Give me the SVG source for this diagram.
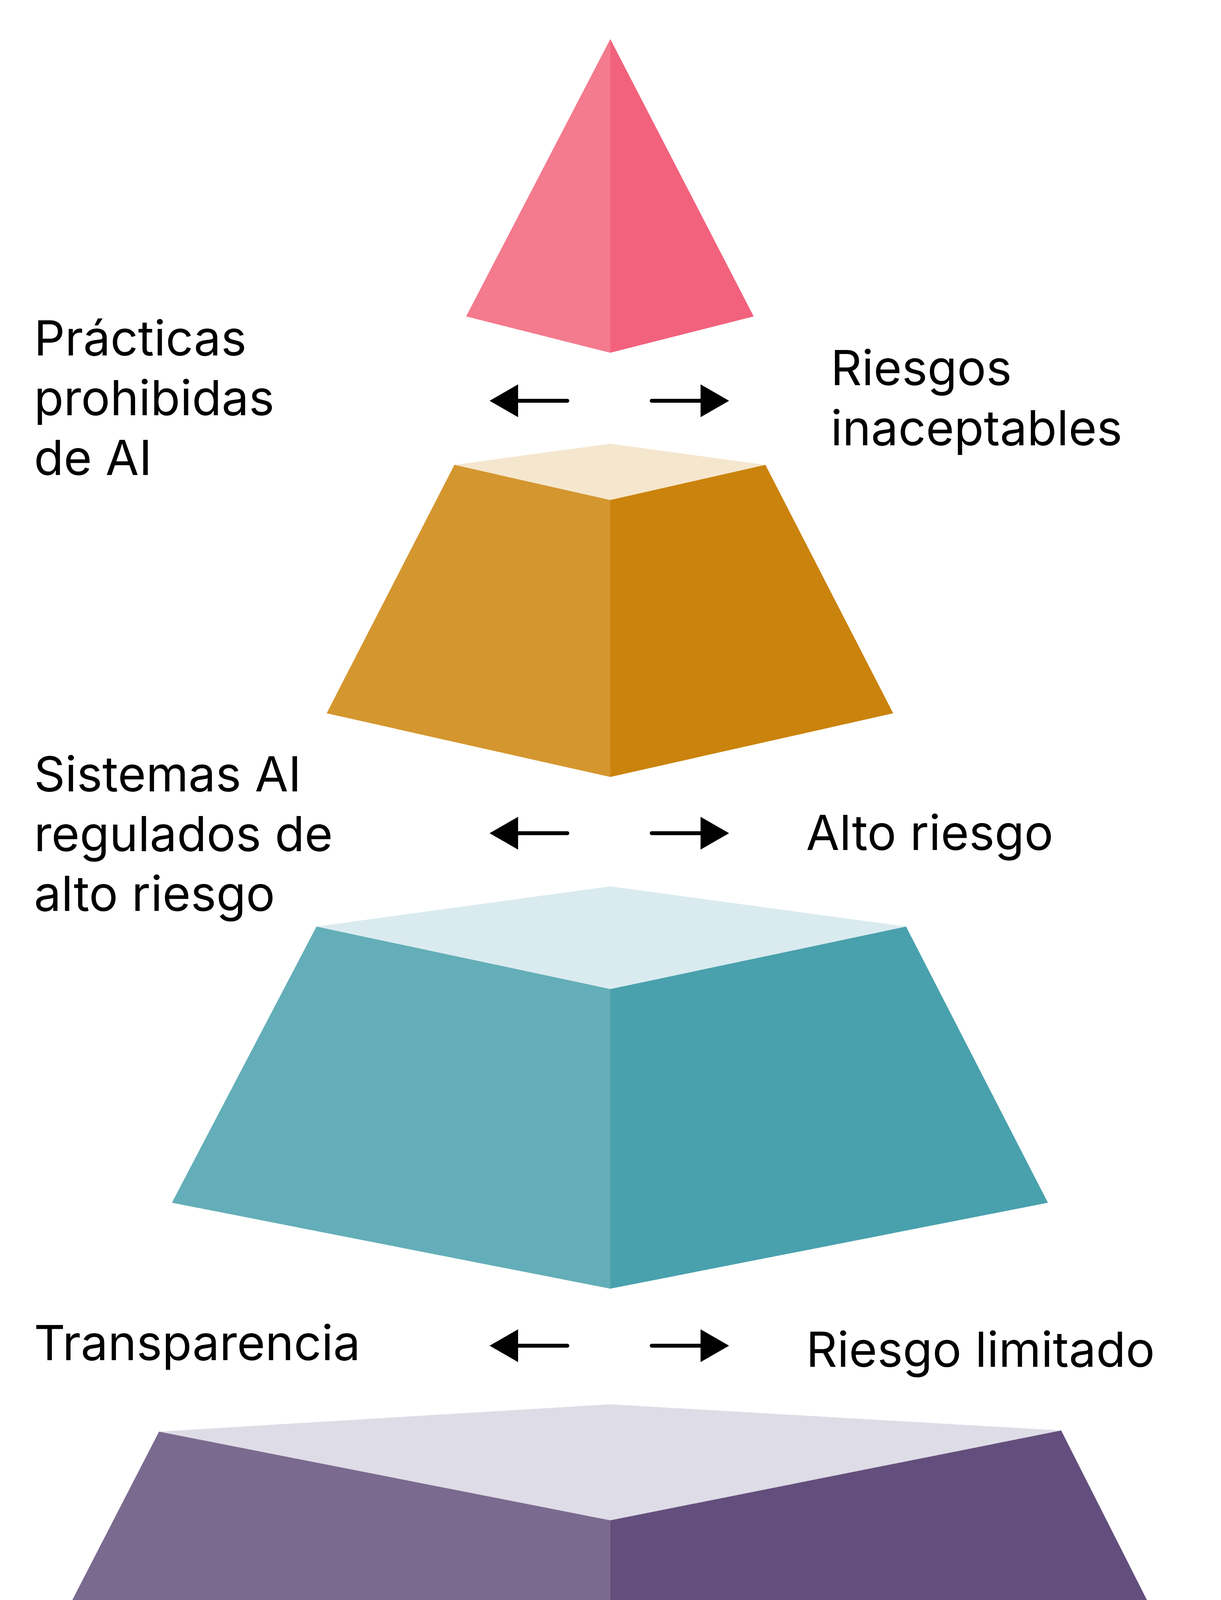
<svg xmlns="http://www.w3.org/2000/svg" width="3125" height="5226" viewBox="0 0 3125 5226">
<style>
text{font-family:Inter,"Noto Sans","Liberation Sans",sans-serif;font-size:124px;fill:#000}
.ln{stroke:#000;stroke-width:10;stroke-linecap:round}
</style>
<rect width="3125" height="5226" fill="#fff"/>
<g id="tier1">
<polygon points="1562,100 1193,810 1562,903" fill="#F47A8E"/>
<polygon points="1562,100 1929,810 1562,903" fill="#F2627D"/>
</g>
<g id="tier2">
<polygon points="1562,1136 1163,1190 1562,1280 1959,1190" fill="#F5E7CE"/>
<polygon points="1163,1190 1562,1280 1562,1989 836,1826" fill="#D4962F"/>
<polygon points="1959,1190 1562,1280 1562,1989 2286,1826" fill="#CA830C"/>
</g>
<g id="tier3">
<polygon points="1562,2269 810,2372 1562,2532 2319,2372" fill="#DAEBEF"/>
<polygon points="810,2372 1562,2532 1562,3299 440,3079" fill="#63AEB8"/>
<polygon points="2319,2372 1562,2532 1562,3299 2682,3079" fill="#49A1AD"/>
</g>
<g id="tier4">
<polygon points="1562,3595 407,3665 1562,3892 2716,3662" fill="#DEDCE6"/>
<polygon points="407,3665 1562,3892 1562,4758 43,4372" fill="#7B6A8F"/>
<polygon points="2716,3662 1562,3892 1562,4758 3075,4372" fill="#634F7D"/>
</g>
<g id="connectors">
<g transform="translate(0,1026)">
<line class="ln" x1="1326" y1="0" x2="1452" y2="0"/><polygon points="1253,0 1326,-42 1326,42"/>
<line class="ln" x1="1668" y1="0" x2="1793" y2="0"/><polygon points="1866,0 1793,-42 1793,42"/>
</g>
<g transform="translate(0,2133)">
<line class="ln" x1="1326" y1="0" x2="1452" y2="0"/><polygon points="1253,0 1326,-42 1326,42"/>
<line class="ln" x1="1668" y1="0" x2="1793" y2="0"/><polygon points="1866,0 1793,-42 1793,42"/>
</g>
<g transform="translate(0,3445)">
<line class="ln" x1="1326" y1="0" x2="1452" y2="0"/><polygon points="1253,0 1326,-42 1326,42"/>
<line class="ln" x1="1668" y1="0" x2="1793" y2="0"/><polygon points="1866,0 1793,-42 1793,42"/>
</g>
<g transform="translate(0,4901)">
<line class="ln" x1="1326" y1="0" x2="1452" y2="0"/><polygon points="1253,0 1326,-42 1326,42"/>
<line class="ln" x1="1668" y1="0" x2="1793" y2="0"/><polygon points="1866,0 1793,-42 1793,42"/>
</g>
</g>
<g id="labels">
<text x="87" y="910">Prácticas</text>
<text x="87" y="1063">prohibidas</text>
<text x="87" y="1216">de AI</text>
<text x="2126" y="986">Riesgos</text>
<text x="2126" y="1140">inaceptables</text>
<text x="87" y="2026">Sistemas AI</text>
<text x="87" y="2179">regulados de</text>
<text x="87" y="2332">alto riesgo</text>
<text x="2063" y="2176">Alto riesgo</text>
<text x="87" y="3482">Transparencia</text>
<text x="2063" y="3499">Riesgo limitado</text>
<text x="87" y="4945">Sin obligaciones</text>
<text x="2063" y="4858">Riesgo bajo</text>
<text x="2063" y="5015">y mínimo</text>
</g>
</svg>
